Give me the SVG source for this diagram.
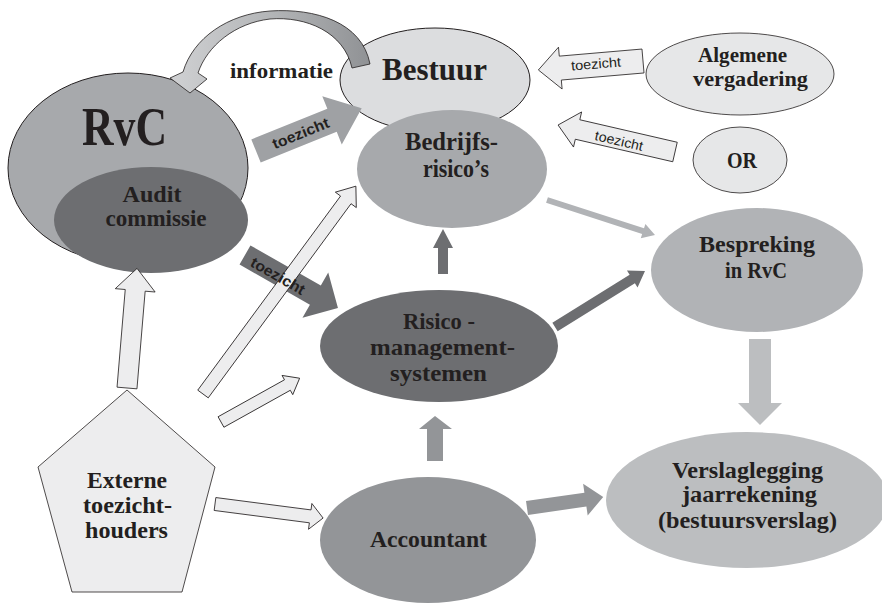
<svg xmlns="http://www.w3.org/2000/svg" width="882" height="609" viewBox="0 0 882 609">
<defs>
<style>
.lbl{font-family:"Liberation Serif","DejaVu Serif",serif;font-weight:bold;fill:#231f20;text-anchor:middle}
.tz{font-family:"Liberation Sans",Arial,sans-serif;fill:#231f20;text-anchor:middle}
.lt{fill:#ededee;stroke:#231f20;stroke-width:0.8}
.dk{fill:#6d6e71}
.md{fill:#939598}
.st{stroke:#231f20;stroke-width:1}
</style>
<linearGradient id="gInfo" x1="170" y1="0" x2="372" y2="0" gradientUnits="userSpaceOnUse">
<stop offset="0" stop-color="#d0d1d3"/>
<stop offset="0.5" stop-color="#b3b5b7"/>
<stop offset="1" stop-color="#8f9194"/>
</linearGradient>
</defs>
<rect width="882" height="609" fill="#ffffff"/>

<g id="rvc">
<ellipse cx="128" cy="168" rx="120" ry="95" fill="#a7a9ac" class="st"/>
<text class="lbl" x="124.5" y="145" font-size="54" textLength="85" lengthAdjust="spacingAndGlyphs">RvC</text>
</g>
<g id="audit">
<ellipse cx="151" cy="220" rx="97" ry="53" fill="#6d6e71"/>
<text class="lbl" x="152" y="202" font-size="23" textLength="59" lengthAdjust="spacingAndGlyphs">Audit</text>
<text class="lbl" x="156" y="226" font-size="23" textLength="101" lengthAdjust="spacingAndGlyphs">commissie</text>
</g>
<g id="bestuur">
<ellipse cx="435" cy="80" rx="95" ry="52" fill="#dcdddf" class="st"/>
<text class="lbl" x="434.5" y="80" font-size="31" textLength="105" lengthAdjust="spacingAndGlyphs">Bestuur</text>
</g>
<g id="bedrijfsrisicos">
<ellipse cx="452" cy="169" rx="95" ry="59" fill="#a7a9ac"/>
<text class="lbl" x="451.5" y="150" font-size="25" textLength="93" lengthAdjust="spacingAndGlyphs">Bedrijfs-</text>
<text class="lbl" x="456" y="177" font-size="25" textLength="66" lengthAdjust="spacingAndGlyphs">risico’s</text>
</g>
<g id="algemene-vergadering">
<ellipse cx="740" cy="74" rx="94" ry="41" fill="#e6e7e8" stroke="#231f20" stroke-width="0.8"/>
<text class="lbl" x="742.5" y="62" font-size="22" textLength="89" lengthAdjust="spacingAndGlyphs">Algemene</text>
<text class="lbl" x="750.5" y="86" font-size="22" textLength="115" lengthAdjust="spacingAndGlyphs">vergadering</text>
</g>
<g id="or">
<ellipse cx="740" cy="160" rx="47" ry="33" fill="#e6e7e8" stroke="#231f20" stroke-width="0.8"/>
<text class="lbl" x="742" y="168" font-size="23" textLength="30" lengthAdjust="spacingAndGlyphs">OR</text>
</g>
<g id="risicomanagementsystemen">
<ellipse cx="439" cy="346" rx="119" ry="56" fill="#6d6e71"/>
<text class="lbl" x="439" y="329" font-size="23" textLength="72" lengthAdjust="spacingAndGlyphs">Risico -</text>
<text class="lbl" x="442.5" y="355" font-size="23" textLength="145" lengthAdjust="spacingAndGlyphs">management-</text>
<text class="lbl" x="438.5" y="381" font-size="23" textLength="97" lengthAdjust="spacingAndGlyphs">systemen</text>
</g>
<g id="bespreking">
<ellipse cx="757" cy="270" rx="106" ry="62" fill="#b1b3b6"/>
<text class="lbl" x="757" y="252" font-size="24" textLength="116" lengthAdjust="spacingAndGlyphs">Bespreking</text>
<text class="lbl" x="756" y="278" font-size="24" textLength="62" lengthAdjust="spacingAndGlyphs">in RvC</text>
</g>
<g id="accountant">
<ellipse cx="428" cy="540" rx="108" ry="63" fill="#939598"/>
<text class="lbl" x="428.5" y="547" font-size="24" textLength="117" lengthAdjust="spacingAndGlyphs">Accountant</text>
</g>
<g id="verslaglegging">
<ellipse cx="747" cy="500" rx="141" ry="68" fill="#bcbec0"/>
<text class="lbl" x="747.5" y="478" font-size="24" textLength="151" lengthAdjust="spacingAndGlyphs">Verslaglegging</text>
<text class="lbl" x="749.5" y="502" font-size="24" textLength="135" lengthAdjust="spacingAndGlyphs">jaarrekening</text>
<text class="lbl" x="747.5" y="528" font-size="24" textLength="179" lengthAdjust="spacingAndGlyphs">(bestuursverslag)</text>
</g>
<g id="externe-toezichthouders">
<polygon points="127,390 215,467 182,592 72,592 38,467" fill="#ededee" stroke="#231f20" stroke-width="0.8"/>
<text class="lbl" x="127" y="488" font-size="24" textLength="80" lengthAdjust="spacingAndGlyphs">Externe</text>
<text class="lbl" x="127.5" y="513" font-size="24" textLength="89" lengthAdjust="spacingAndGlyphs">toezicht-</text>
<text class="lbl" x="126.5" y="538" font-size="24" textLength="83" lengthAdjust="spacingAndGlyphs">houders</text>
</g>
<text class="lbl" x="281.5" y="78" font-size="22" textLength="103" lengthAdjust="spacingAndGlyphs">informatie</text>

<g id="connectors">
<!-- informatie: Bestuur -> RvC -->
<path d="M370,64 C362,22 315,8 270,11 C228,14 193,38 183,72 L170,78 L190,93 L207,79 L198,73 C207,46 235,23 270,19 C306,16 344,32 352,68 Z" fill="url(#gInfo)" stroke="#231f20" stroke-width="0.8"/>
<!-- RvC -> Bestuur toezicht -->
<polygon transform="translate(256,151) rotate(-22)" points="0,-12.5 82,-12.5 82,-26 114,0 82,26 82,12.5 0,12.5" fill="#9fa1a4"/>
<!-- Audit -> Risico toezicht -->
<polygon transform="translate(245,255) rotate(29.7)" points="0,-11 81,-11 81,-26 107,0 81,26 81,11 0,11" class="dk"/>
<!-- Algemene -> Bestuur -->
<polygon transform="translate(643,61) rotate(175.1)" points="0,-12 83,-12 83,-21 105,0 83,21 83,12 0,12" class="lt"/>
<!-- OR -> Bedrijfsrisico's -->
<polygon transform="translate(675,152) rotate(193)" points="0,-10 100,-10 100,-18 120,0 100,18 100,10 0,10" class="lt"/>
<!-- Externe -> Audit -->
<polygon transform="translate(127,388) rotate(-85.2)" points="0,-10 98,-10 98,-20 120,0 98,20 98,10 0,10" class="lt"/>
<!-- Externe -> Bedrijfsrisico's -->
<polygon transform="translate(203,394) rotate(-53.66)" points="0,-6.5 241,-6.5 241,-13 258,0 241,13 241,6.5 0,6.5" class="lt"/>
<!-- Externe -> Risico -->
<polygon transform="translate(221,422) rotate(-29.1)" points="0,-6 76,-6 76,-11 90,0 76,11 76,6 0,6" class="lt"/>
<!-- Externe -> Accountant -->
<polygon transform="translate(215,504) rotate(7.4)" points="0,-6.5 96,-6.5 96,-13 109,0 96,13 96,6.5 0,6.5" class="lt"/>
<!-- Risico -> Bedrijfsrisico's -->
<polygon points="438,274 448,274 448,248 453,248 443,229 433,248 438,248" class="dk"/>
<!-- Risico -> Bespreking -->
<polygon transform="translate(555,327) rotate(-31.9)" points="0,-5 91,-5 91,-10 106,0 91,10 91,5 0,5" class="dk"/>
<!-- Bedrijfsrisico's -> Bespreking -->
<polygon transform="translate(547,200) rotate(17.96)" points="0,-3 101,-3 101,-7.5 113.5,0 101,7.5 101,3 0,3" fill="#b1b3b6"/>
<!-- Bespreking -> Verslaglegging -->
<polygon points="749,339 771,339 771,403 782,403 760,425 738,403 749,403" fill="#bcbec0"/>
<!-- Accountant -> Risico -->
<polygon points="427,461 443,461 443,429 452,429 435,416 419,429 427,429" class="md"/>
<!-- Accountant -> Verslaglegging -->
<polygon transform="translate(527,508) rotate(-8.2)" points="0,-7 59,-7 59,-16 77,0 59,16 59,7 0,7" class="md"/>
<!-- connector labels -->
<text class="tz" transform="translate(256,151) rotate(-22)" x="48" y="5.5" font-size="15" font-weight="bold" textLength="60" lengthAdjust="spacingAndGlyphs">toezicht</text>
<text class="tz" transform="translate(245,255) rotate(29.7)" x="39" y="7" font-size="15" font-weight="bold" textLength="60" lengthAdjust="spacingAndGlyphs">toezicht</text>
<text class="tz" transform="translate(596,64) rotate(-4.9)" x="0" y="4.5" font-size="13.5" textLength="50" lengthAdjust="spacingAndGlyphs">toezicht</text>
<text class="tz" transform="translate(619,141) rotate(13)" x="0" y="4.5" font-size="13.5" textLength="49" lengthAdjust="spacingAndGlyphs">toezicht</text>
</g>
</svg>
